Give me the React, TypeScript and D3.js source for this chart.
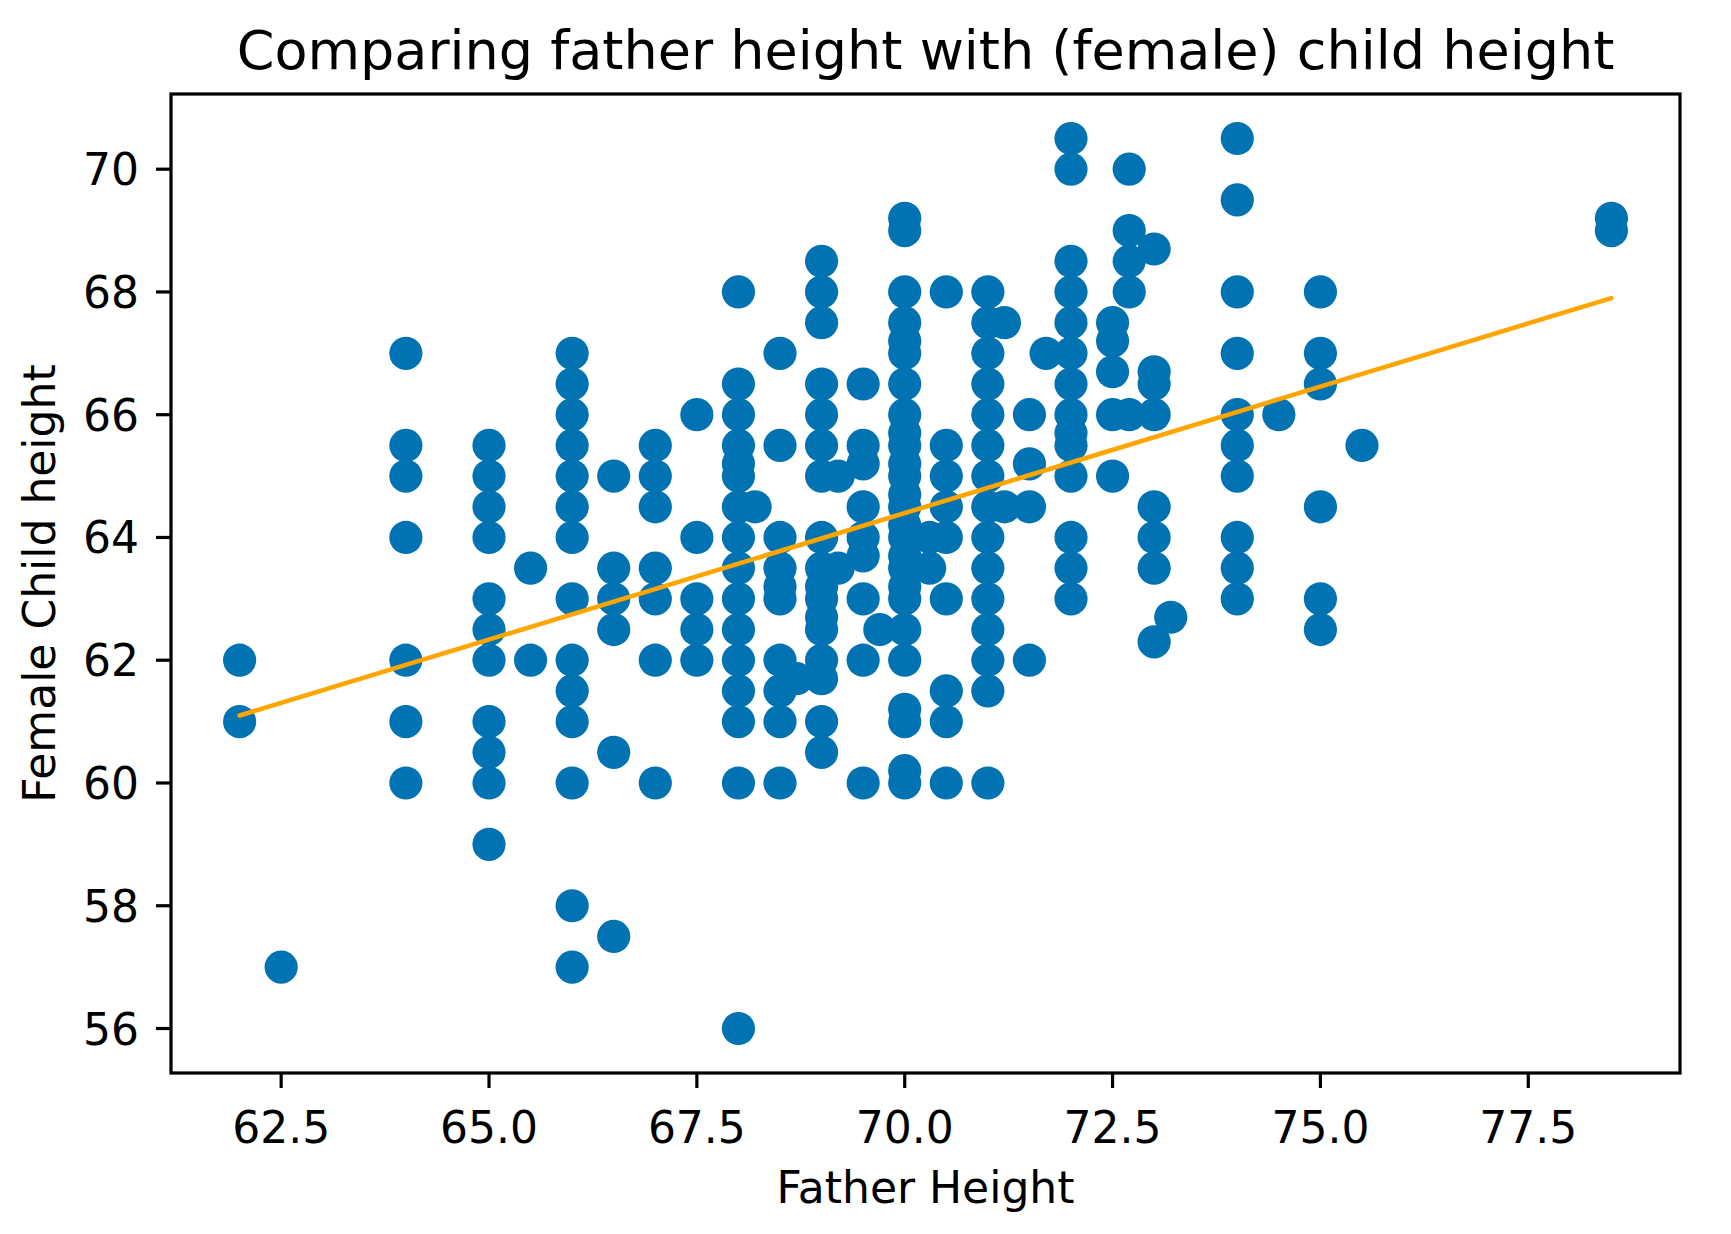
import React from "react";
import * as d3 from "d3";

// ---- data ----
const fatherColumns: number[] = [
  62, 62.5, 64, 65, 65.5, 66, 66.5, 67, 67.5, 68, 68.2, 68.5, 68.7, 69, 69.2, 69.5, 69.7,
  70, 70.3, 70.5, 71, 71.2, 71.5, 71.7, 72, 72.5, 72.7, 73, 73.2, 74, 74.5, 75, 75.5, 78.5,
];
const childByColumn: number[][] = [
  [62, 61],
  [57],
  [67, 65.5, 65, 64, 62, 61, 60],
  [65.5, 65, 64.5, 64, 63, 62.5, 62, 61, 60.5, 60, 59],
  [63.5, 62],
  [67, 66.5, 66, 65.5, 65, 64.5, 64, 63, 62, 61.5, 61, 60, 58, 57],
  [65, 63.5, 63, 62.5, 60.5, 57.5],
  [65.5, 65, 64.5, 63.5, 63, 62, 60],
  [66, 64, 63, 62.5, 62],
  [68, 66.5, 66, 65.5, 65.2, 65, 64.5, 64, 63.5, 63, 62.5, 62, 61.5, 61, 60, 56],
  [64.5],
  [67, 65.5, 64, 63.5, 63.2, 63, 62, 61.5, 61, 60],
  [61.7],
  [68.5, 68, 67.5, 66.5, 66, 65.5, 65, 64, 63.5, 63.2, 63, 62.7, 62.5, 62, 61.7, 61, 60.5],
  [65, 63.5],
  [66.5, 65.5, 65.2, 64.5, 64, 63.7, 63, 62, 60],
  [62.5],
  [69.2, 69, 68, 67.5, 67.2, 67, 66.5, 66, 65.7, 65.5, 65.2, 65, 64.7, 64.5, 64.2, 64, 63.7, 63.5, 63.2, 63, 62.5, 62, 61.2, 61, 60.2, 60],
  [64, 63.5],
  [68, 65.5, 65, 64.5, 64, 63, 61.5, 61, 60],
  [68, 67.5, 67, 66.5, 66, 65.5, 65, 64.5, 64, 63.5, 63, 62.5, 62, 61.5, 60],
  [67.5, 64.5],
  [66, 65.2, 64.5, 62],
  [67],
  [70.5, 70, 68.5, 68, 67.5, 67, 66.5, 66, 65.7, 65.5, 65, 64, 63.5, 63],
  [67.5, 67.2, 66.7, 66, 65],
  [70, 69, 68.5, 68, 66],
  [68.7, 66.7, 66.5, 66, 64.5, 64, 63.5, 62.3],
  [62.7],
  [70.5, 69.5, 68, 67, 66, 65.5, 65, 64, 63.5, 63],
  [66],
  [68, 67, 66.5, 64.5, 63, 62.5],
  [65.5],
  [69.2, 69],
];
const fitX: number[] = [62, 78.5];
const fitY: number[] = [61.1, 67.9];
const xTicks: number[] = [62.5, 65.0, 67.5, 70.0, 72.5, 75.0, 77.5];
const yTicks: number[] = [56, 58, 60, 62, 64, 66, 68, 70];

const titleText = "Comparing father height with (female) child height";
const xLabel = "Father Height";
const yLabel = "Female Child height";

// ---- layout ----
const W = 1731;
const H = 1234;
const plot = { left: 171, right: 1680, top: 94, bottom: 1073 };
const FONT = "'DejaVu Sans', sans-serif";
const BLUE = "#0173B2";
const ORANGE = "#FFA500";

export default function App() {
  const points = fatherColumns.flatMap((fx, i) =>
    childByColumn[i].map((cy) => ({ x: fx, y: cy }))
  );
  const allX = points.map((p) => p.x);
  const allY = points.map((p) => p.y);
  const [x0, x1] = d3.extent(allX) as [number, number];
  const [y0, y1] = d3.extent(allY) as [number, number];
  const mx = (x1 - x0) * 0.05;
  const my = (y1 - y0) * 0.05;

  const xScale = d3.scaleLinear().domain([x0 - mx, x1 + mx]).range([plot.left, plot.right]);
  const yScale = d3.scaleLinear().domain([y0 - my, y1 + my]).range([plot.bottom, plot.top]);

  const fitLine = d3
    .line<number>()
    .x((_, i) => xScale(fitX[i]))
    .y((d) => yScale(d))(fitY) as string;

  const tickLen = 15;
  const tickW = 3.2;
  const tickFont = 44;

  return (
    <svg
      width={W}
      height={H}
      viewBox={`0 0 ${W} ${H}`}
      style={{ position: "absolute", left: 0, top: 0, background: "#fff" }}
      fontFamily={FONT}
    >
      <rect x={0} y={0} width={W} height={H} fill="#fff" />
      {/* points */}
      <g>
        {points.map((p, i) => (
          <circle key={i} cx={xScale(p.x)} cy={yScale(p.y)} r={16.6} fill={BLUE} />
        ))}
      </g>
      {/* regression line */}
      <path d={fitLine} fill="none" stroke={ORANGE} strokeWidth={4.6} strokeLinecap="round" />
      {/* spines */}
      <rect
        x={plot.left}
        y={plot.top}
        width={plot.right - plot.left}
        height={plot.bottom - plot.top}
        fill="none"
        stroke="#000"
        strokeWidth={3.2}
      />
      {/* x ticks */}
      {xTicks.map((t) => (
        <g key={"x" + t}>
          <line
            x1={xScale(t)}
            x2={xScale(t)}
            y1={plot.bottom}
            y2={plot.bottom + tickLen}
            stroke="#000"
            strokeWidth={tickW}
          />
          <text x={xScale(t)} y={1143} textAnchor="middle" fontSize={tickFont} fill="#000">
            {t.toFixed(1)}
          </text>
        </g>
      ))}
      {/* y ticks */}
      {yTicks.map((t) => (
        <g key={"y" + t}>
          <line
            x1={plot.left - tickLen}
            x2={plot.left}
            y1={yScale(t)}
            y2={yScale(t)}
            stroke="#000"
            strokeWidth={tickW}
          />
          <text x={139} y={yScale(t) + 16} textAnchor="end" fontSize={tickFont} fill="#000">
            {t}
          </text>
        </g>
      ))}
      {/* title and labels */}
      <text x={(plot.left + plot.right) / 2} y={69} textAnchor="middle" fontSize={54} fill="#000">
        {titleText}
      </text>
      <text x={(plot.left + plot.right) / 2} y={1203} textAnchor="middle" fontSize={44} fill="#000">
        {xLabel}
      </text>
      <text
        transform={`translate(55, ${(plot.top + plot.bottom) / 2}) rotate(-90)`}
        textAnchor="middle"
        fontSize={44}
        fill="#000"
      >
        {yLabel}
      </text>
    </svg>
  );
}
